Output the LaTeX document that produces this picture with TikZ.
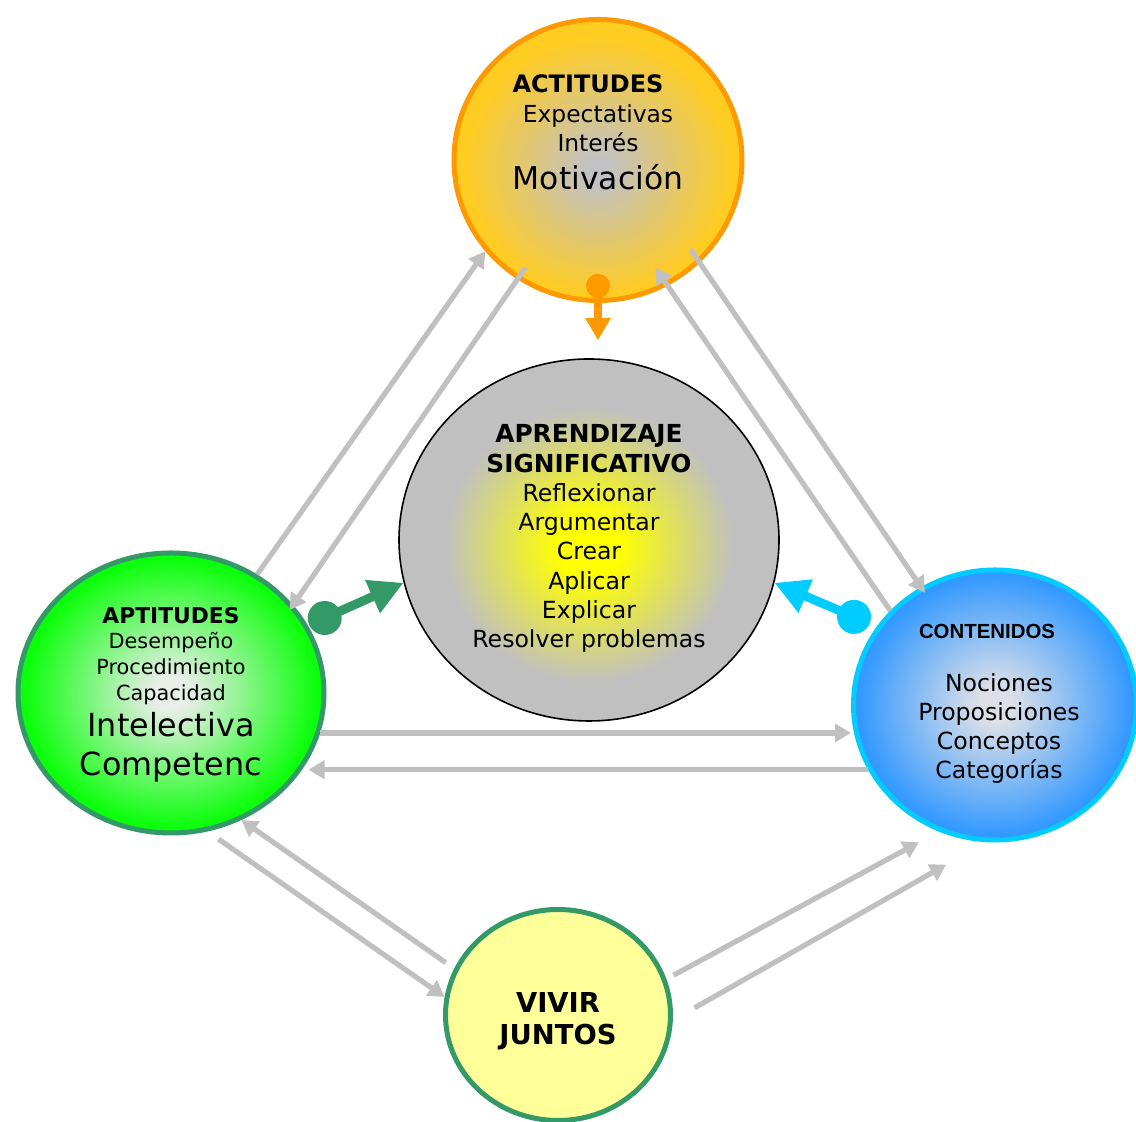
\documentclass[tikz,border=0pt]{standalone}
\usepackage{fontspec}
\setmainfont{DejaVu Sans}
\newfontfamily\arialfont{Liberation Sans}
\usetikzlibrary{shapes.geometric, arrows.meta, positioning, calc}

\definecolor{grisflecha}{HTML}{C0C0C0}
\definecolor{naranja}{HTML}{FF9900}
\definecolor{verdeosc}{HTML}{339966}
\definecolor{celeste}{HTML}{00CCFF}
\definecolor{amarclaro}{HTML}{FFFF99}
\definecolor{actin}{RGB}{194,194,196}
\definecolor{actout}{HTML}{FFCC22}
\definecolor{aprin}{HTML}{FFFF00}
\definecolor{aprout}{HTML}{C0C0C0}
\definecolor{aptin}{RGB}{232,238,232}
\definecolor{aptout}{RGB}{10,255,10}
\definecolor{conin}{RGB}{222,224,232}
\definecolor{conout}{HTML}{3399FF}

% degradados radiales de los circulos
\pgfdeclareradialshading{actshade}{\pgfpoint{0bp}{-2bp}}{color(0bp)=(actin); color(2bp)=(actin); color(23bp)=(actout); color(50bp)=(actout)}
\pgfdeclareradialshading{aprshade}{\pgfpoint{0bp}{-1bp}}{color(0bp)=(aprin); color(4bp)=(aprin); color(19bp)=(aprout); color(50bp)=(aprout)}
\pgfdeclareradialshading{aptshade}{\pgfpoint{0bp}{0bp}}{color(0bp)=(aptin); color(3bp)=(aptin); color(24bp)=(aptout); color(50bp)=(aptout)}
\pgfdeclareradialshading{conshade}{\pgfpoint{0bp}{0bp}}{color(0bp)=(conin); color(3bp)=(conin); color(24bp)=(conout); color(50bp)=(conout)}

\tikzset{
  circulo/.style={ellipse, inner sep=0pt, line width=2.5pt},
  flecha/.style={grisflecha, line width=2.6pt, -{Triangle[length=8pt, width=9pt]}},
  titulo/.style={font=\bfseries, align=center, inner sep=0pt},
  texto/.style={align=center, inner sep=0pt},
}

\begin{document}
\begin{tikzpicture}[x=0.5pt, y=0.5pt]
\useasboundingbox (0,0) rectangle (1136,1122);

% circulos
\node[circulo, draw=naranja, shading=actshade, minimum width=144pt, minimum height=140.5pt] (act) at (598,962) {};
\node[circulo, draw=black, line width=0.8pt, shading=aprshade, minimum width=190pt, minimum height=181pt] (apr) at (589,582) {};
\node[circulo, draw=verdeosc, shading=aptshade, minimum width=153pt, minimum height=140pt] (apt) at (171,429) {};
\node[circulo, draw=celeste, shading=conshade, minimum width=141.5pt, minimum height=135pt] (con) at (995,417) {};
\node[circulo, draw=verdeosc, fill=amarclaro, minimum width=112.5pt, minimum height=105.5pt] (viv) at (558,107) {};

% textos
\node[titulo, font=\bfseries\fontsize{12}{15}\selectfont] (acttit) at (588,1038) {ACTITUDES};
\node[texto, font=\fontsize{11.7}{14.5}\selectfont] (actcue) at (598,994) {Expectativas\\Interés};
\node[texto, font=\fontsize{15.7}{19}\selectfont] (actmot) at (598,945) {Motivación};

\node[titulo, font=\bfseries\fontsize{12.4}{15}\selectfont] (aprtit) at (589,673) {APRENDIZAJE\\SIGNIFICATIVO};
\node[texto, font=\fontsize{11.8}{14.6}\selectfont] (aprcue) at (589,554) {Reflexionar\\Argumentar\\Crear\\Aplicar\\Explicar\\Resolver problemas};

\node[titulo, font=\bfseries\fontsize{10.9}{13}\selectfont] (apttit) at (171,506) {APTITUDES};
\node[texto, font=\fontsize{10.4}{13}\selectfont] (aptcue) at (171,453) {Desempeño\\Procedimiento\\Capacidad};
\node[texto, font=\fontsize{15.9}{19.5}\selectfont] (aptgra) at (171,375) {Intelectiva\\Competenc};

\node[titulo, font=\arialfont\bfseries\fontsize{10.2}{12}\selectfont] (contit) at (987,491) {CONTENIDOS};
\node[texto, font=\fontsize{11.8}{14.5}\selectfont] (concue) at (999,393) {Nociones\\Proposiciones\\Conceptos\\Categorías};

\node[titulo, font=\bfseries\fontsize{13.7}{16}\selectfont] (vivtit) at (558,101) {VIVIR\\JUNTOS};

% flechas grises
\draw[flecha] (apt.54) -- (act.219);
\draw[flecha] ($(act.center)!0.9!(act.236)$) -- ($(apt.center)!0.96!(apt.35)$);
\draw[flecha] (con.138) -- ($(act.center)!0.85!(act.298)$);
\draw[flecha] ($(act.center)!0.89!(act.-44)$) -- ($(con.center)!0.95!(con.122)$);
\draw[flecha] (apt.-15) -- (apt.-15 -| con.west);
\draw[flecha, shorten >=-9pt] (con.207) -- (con.207 -| apt.east);
\draw[flecha] ($(apt.center)!1.07!(apt.-72)$) -- (viv.171);
\draw[flecha] ($(viv.center)!1.09!(viv.155)$) -- (apt.-61);
\draw[flecha] ($(viv.center)!1.07!(viv.19)$) -- ($(con.center)!1.13!(con.241)$);
\draw[flecha] ($(viv.center)!1.19!(viv.3)$) -- ($(con.center)!1.21!(con.253)$);

% flechas de color hacia el aprendizaje
\coordinate (actpunto) at ($(act.center)!0.88!(act.south)$);
\coordinate (aptpunto) at ($(apt.center)!1.12!(apt.26)$);
\coordinate (conpunto) at ($(con.center)!1.17!(con.148)$);

\fill[naranja] (actpunto) circle (6pt);
\draw[naranja, line width=4pt, -{Triangle[length=11pt, width=12pt]}] (actpunto) -- ([yshift=9pt]actpunto |- apr.north);

\fill[verdeosc] (aptpunto) circle (8.5pt);
\draw[verdeosc, line width=4.5pt, -{Triangle[length=17pt, width=17pt]}] (aptpunto) -- (apr.193);

\fill[celeste] (conpunto) circle (8.5pt);
\draw[celeste, line width=4.5pt, -{Triangle[length=17pt, width=17pt]}] (conpunto) -- (apr.347);
\end{tikzpicture}
\end{document}
